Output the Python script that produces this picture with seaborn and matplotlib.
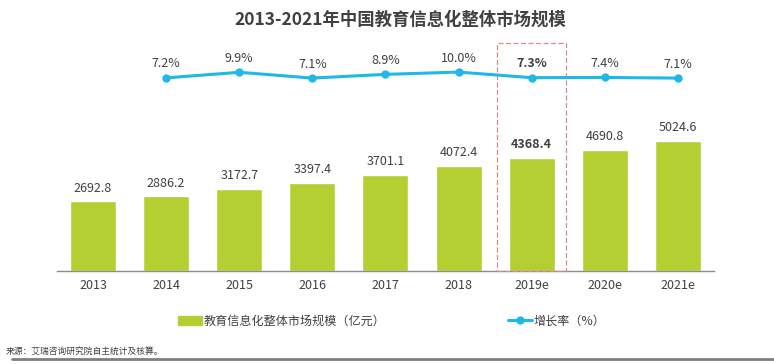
import matplotlib
matplotlib.use('Agg')
import matplotlib.pyplot as plt
import matplotlib.patches as mpatches
import matplotlib.transforms as mtransforms
from matplotlib.lines import Line2D
import seaborn as sns
import pandas as pd

# data
years = ['2013', '2014', '2015', '2016', '2017', '2018', '2019e', '2020e', '2021e']
market_size = [2692.8, 2886.2, 3172.7, 3397.4, 3701.1, 4072.4, 4368.4, 4690.8, 5024.6]
growth_rate = [7.2, 9.9, 7.1, 8.9, 10.0, 7.3, 7.4, 7.1]
rate_years = years[1:]
highlight = '2019e'

sns.set_theme(style='white')
plt.rcParams['font.family'] = ['Noto Sans CJK SC', 'DejaVu Sans']

green = '#B3CF32'
blue = '#1FB8E8'
txt = '#404040'

df = pd.DataFrame({'year': years, 'size': market_size})

fig = plt.figure(figsize=(7.74, 3.64), dpi=100)
ax = fig.add_axes([0.073, 0.2555, 0.850, 0.6346])

sns.barplot(data=df, x='year', y='size', color=green, width=0.63,
            saturation=1, ax=ax)
ax.set_xlim(-0.5, 8.5)
ax.set_ylim(0, 8919)

for i, (y, v) in enumerate(zip(years, market_size)):
    bold = (y == highlight)
    ax.text(i, v + 260, f'{v:.1f}', ha='center', va='bottom', fontsize=9,
            color=txt, fontweight='bold' if bold else 'normal')

# growth rate on a twin axis
ax2 = ax.twinx()
rate_x = [years.index(y) for y in rate_years]
sns.lineplot(x=rate_x, y=growth_rate, color=blue, linewidth=2.2, marker='o',
             markersize=6, markeredgewidth=0, ax=ax2)
ax2.set_ylim(-86.1, 25.5)
ax2.set_xlim(-0.5, 8.5)
for x, y, r in zip(rate_x, rate_years, growth_rate):
    bold = (y == highlight)
    ax2.text(x, r + 3.6, f'{r:.1f}%', ha='center', va='bottom', fontsize=9,
             color=txt, fontweight='bold' if bold else 'normal')

# dashed box around the highlighted year
hi = years.index(highlight)
trans = mtransforms.blended_transform_factory(ax.transData, ax.transAxes)
rect = mpatches.Rectangle((hi - 0.475, 0), 0.95, 0.987, transform=trans,
                          fill=False, edgecolor='#D98C8C', linestyle=(0, (4, 2)),
                          linewidth=0.9, clip_on=False, zorder=5)
ax.add_patch(rect)

for a in (ax, ax2):
    for s in ('top', 'right', 'left'):
        a.spines[s].set_visible(False)
    a.set_yticks([])
    a.set_ylabel('')
    a.set_xlabel('')
ax2.spines['bottom'].set_visible(False)
ax.spines['bottom'].set_color('#8C8C8C')
ax.spines['bottom'].set_linewidth(1.0)
ax.tick_params(axis='x', length=0, labelsize=9, colors=txt, pad=6)

fig.text(0.517, 0.945, '2013-2021年中国教育信息化整体市场规模', ha='center',
         va='center', fontsize=12.5, fontweight='bold', color=txt)

handles = [mpatches.Patch(color=green),
           Line2D([0], [0], color=blue, linewidth=2.2, marker='o',
                  markersize=6, markeredgewidth=0)]
labels = ['教育信息化整体市场规模（亿元）', '增长率（%）']
fig.legend(handles, labels, loc='center', bbox_to_anchor=(0.506, 0.118),
           ncol=2, frameon=False, fontsize=8.7, handlelength=2.0,
           handletextpad=0.1, columnspacing=10.2, labelcolor=txt)

fig.text(0.008, 0.035, '来源：艾瑞咨询研究院自主统计及核算。', ha='left',
         va='center', fontsize=6.3, color=txt)
fig.add_artist(Line2D([0.015, 1.0], [0.015, 0.015], color='#7F7F7F',
                      linewidth=2, transform=fig.transFigure))

fig.savefig('out.png', dpi=100)
